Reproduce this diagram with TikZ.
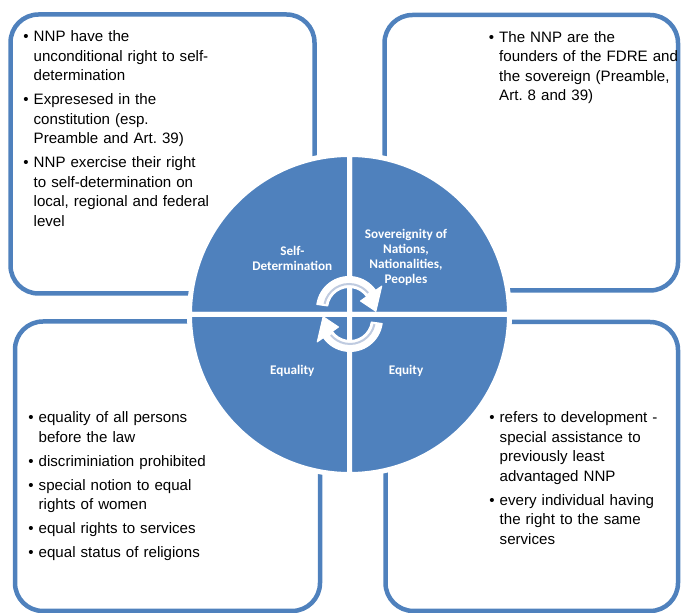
\documentclass[tikz,border=0pt]{standalone}
\usepackage{fontspec}
\setmainfont{Liberation Sans}
\newfontfamily\smartfont{Carlito}
\usepackage{enumitem}
\usetikzlibrary{positioning}
\definecolor{pieblue}{HTML}{4F81BD}
\definecolor{stripeblue}{HTML}{BFCBE0}
\setlist[itemize]{label=\textbullet, leftmargin=11pt, labelsep=5pt, topsep=0pt, partopsep=0pt, parsep=0pt, itemsep=4.5pt, before=\raggedright}
\frenchspacing

\begin{document}
\begin{tikzpicture}[x=1pt, y=1pt,
        panel/.style={draw=pieblue, line width=4.5pt, rounded corners=28pt},
        slice/.style={fill=pieblue, draw=white, line width=5pt},
        notes/.style={anchor=north west, inner sep=0pt, text width=200pt,
                      font=\fontsize{15.1}{19.5}\selectfont},
        slicelabel/.style={text=white, align=center, inner sep=0pt,
                           font=\smartfont\bfseries\fontsize{13.2}{14.8}\selectfont},
        arrowbody/.style={fill=white, draw=white, line width=1pt, line join=round},
        arrowstripe/.style={draw=stripeblue, line width=2pt}]
    \useasboundingbox (0,0) rectangle (681,613);

    % the four text panels
    \draw[panel] (10.5,319.5) rectangle (314.5,598.5);
    \draw[panel] (384.5,322.5) rectangle (678,598);
    \draw[panel] (15,2) rectangle (320,291.5);
    \draw[panel] (385.5,2) rectangle (678,291);

    % the circle
    \coordinate (c) at (349.5,298.5);
    \foreach \a in {0,90,180,270}
        \filldraw[slice] (c) -- ++(\a:160) arc[start angle=\a, end angle=\a+90, radius=160] -- cycle;

    % circular arrows
    \coordinate (up) at (349,304);
    \coordinate (lo) at (350,294);
    \filldraw[arrowbody] ([shift={(172:21.5)}]up) -- ([shift={(172:32.5)}]up)
        arc[start angle=172, end angle=35, radius=32.5] -- ([shift={(35:40)}]up)
        -- ([shift={(-5:27)}]up) -- ([shift={(35:14)}]up) -- ([shift={(35:21.5)}]up)
        arc[start angle=35, end angle=172, radius=21.5] -- cycle;
    \draw[arrowstripe] ([shift={(168:25)}]up) arc[start angle=168, end angle=40, radius=25];
    \filldraw[arrowbody] ([shift={(-8:21.5)}]lo) -- ([shift={(-8:32.5)}]lo)
        arc[start angle=-8, end angle=-145, radius=32.5] -- ([shift={(-145:40)}]lo)
        -- ([shift={(175:27)}]lo) -- ([shift={(-145:14)}]lo) -- ([shift={(-145:21.5)}]lo)
        arc[start angle=-145, end angle=-8, radius=21.5] -- cycle;
    \draw[arrowstripe] ([shift={(-12:25)}]lo) arc[start angle=-12, end angle=-140, radius=25];

    % labels in the circle
    \node[slicelabel] (selfdet) at (292.3,354.3) {Self-\\Determination};
    \node[slicelabel] (sovereign) at (406,355.5) {Sovereignity of\\Nations,\\Nationalities,\\Peoples};
    \node[slicelabel] (equality) at (292.3,242) {Equality};
    \node[slicelabel] (equity) at (406,242) {Equity};

    % panel texts
    \node[notes] (selfdettext) at (22.5,591) {%
        \begin{itemize}
            \item NNP have the\\unconditional right to self-\\determination
            \item Expresesed in the\\constitution (esp.\\Preamble and Art. 39)
            \item NNP exercise their right\\to self-determination on\\local, regional and federal\\level
        \end{itemize}};
    \node[notes] (sovereigntext) at (488,590.5) {%
        \begin{itemize}
            \item The NNP are the\\founders of the FDRE and\\the sovereign (Preamble,\\Art. 8 and 39)
        \end{itemize}};
    \node[notes] (equalitytext) at (27.5,210) {%
        \begin{itemize}
            \item equality of all persons\\before the law
            \item discriminiation prohibited
            \item special notion to equal\\rights of women
            \item equal rights to services
            \item equal status of religions
        \end{itemize}};
    \node[notes] (equitytext) at (488.5,210) {%
        \begin{itemize}
            \item refers to development -\\special assistance to\\previously least\\advantaged NNP
            \item every individual having\\the right to the same\\services
        \end{itemize}};
\end{tikzpicture}
\end{document}
